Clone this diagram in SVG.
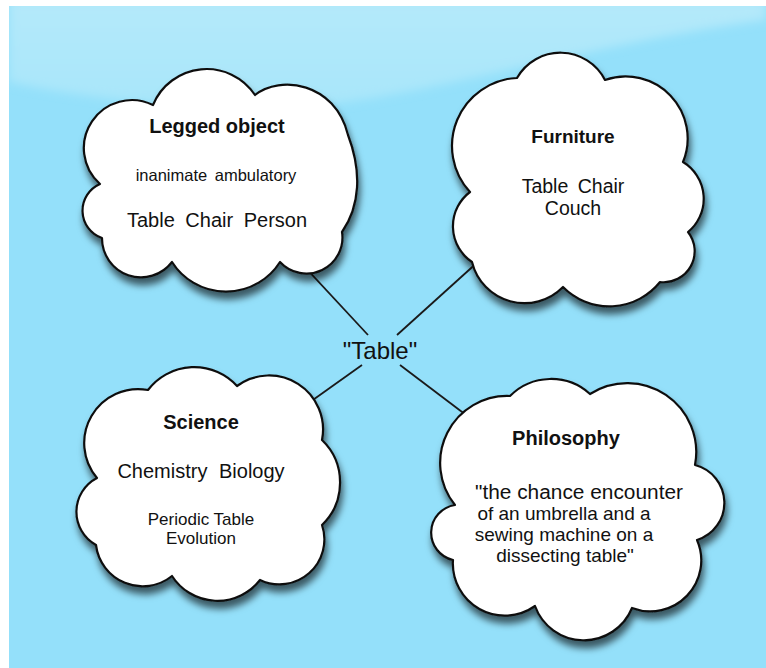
<svg xmlns="http://www.w3.org/2000/svg" width="766" height="668" viewBox="0 0 766 668">
  <defs>
    <linearGradient id="sky" x1="0" y1="0" x2="0" y2="1">
      <stop offset="0" stop-color="#b4e9fa"/>
      <stop offset="1" stop-color="#a8e6fa"/>
    </linearGradient>
    <filter id="soft" x="-10%" y="-30%" width="120%" height="160%">
      <feGaussianBlur stdDeviation="5"/>
    </filter>
    <filter id="shade" x="-20%" y="-20%" width="140%" height="150%">
      <feDropShadow dx="2" dy="7" stdDeviation="3.5" flood-color="#000" flood-opacity="0.6"/>
    </filter>
    <style>
      .cloud { fill: #ffffff; stroke: #111111; stroke-width: 2.2; stroke-linejoin: round; filter: url(#shade); }
      .title { font-family: "Liberation Sans", Arial, sans-serif; font-weight: bold; fill: #111111; text-anchor: middle; }
      .body { font-family: "Liberation Sans", Arial, sans-serif; fill: #111111; text-anchor: middle; }
      .link { stroke: #1a1a1a; stroke-width: 1.8; fill: none; }
    </style>
  </defs>

  <rect width="766" height="668" fill="#ffffff"/>
  <!-- sky backdrop with a soft glossy band along the top -->
  <rect x="9" y="6" width="757" height="662" fill="#94e0fa"/>
  <path d="M9,0 H766 V20 C600,42 440,92 330,104 C220,114 90,100 9,82 Z" fill="url(#sky)" filter="url(#soft)"/>
  <rect x="0" y="0" width="766" height="6" fill="#ffffff"/>
  <rect x="0" y="0" width="9" height="668" fill="#ffffff"/>

  <!-- connectors from the centre word to each cloud -->
  <g id="connectors">
    <line class="link" x1="290" y1="251" x2="368" y2="335"/>
    <line class="link" x1="480" y1="260" x2="397" y2="335"/>
    <line class="link" x1="362" y1="365" x2="296" y2="412"/>
    <line class="link" x1="400" y1="365" x2="470" y2="418"/>
  </g>

  <g id="center">
    <text class="body" x="380" y="359" font-size="24">"Table"</text>
  </g>

  <g id="legged-object">
    <path class="cloud" d="M153,105 A58,58 0 0 1 255,95 C280,75 335,82 348,135 C362,172 360,206 342,232 A36,36 0 0 1 280,262 A64,64 0 0 1 172,262 A39,39 0 0 1 102,238 A29,29 0 0 1 100,184 A48,48 0 0 1 153,105 Z"/>
    <text class="title" x="217" y="133" font-size="20">Legged object</text>
    <text class="body" x="216" y="181" font-size="16.5" word-spacing="3">inanimate ambulatory</text>
    <text class="body" x="217" y="227" font-size="20" word-spacing="5">Table Chair Person</text>
  </g>

  <g id="furniture">
    <path class="cloud" d="M517,78 A50,50 0 0 1 605,80 A62,62 0 0 1 683,162 A43,43 0 0 1 688,232 A31,31 0 0 1 660,282 A65,65 0 0 1 563,287 A54,54 0 0 1 472,262 A43,43 0 0 1 470,192 A68,68 0 0 1 517,78 Z"/>
    <text class="title" x="573" y="143" font-size="19">Furniture</text>
    <text class="body" x="573" y="193" font-size="19.5" word-spacing="4">Table Chair</text>
    <text class="body" x="573" y="215" font-size="19.5">Couch</text>
  </g>

  <g id="science">
    <path class="cloud" d="M148,390 A58,58 0 0 1 237,386 A54,54 0 0 1 322,440 A59,59 0 0 1 322,525 A45,45 0 0 1 260,580 A54,54 0 0 1 172,576 A47,47 0 0 1 96,545 A38,38 0 0 1 97,478 A54,54 0 0 1 148,390 Z"/>
    <text class="title" x="201" y="429" font-size="20">Science</text>
    <text class="body" x="201" y="478" font-size="20" word-spacing="6">Chemistry Biology</text>
    <text class="body" x="201" y="525" font-size="17">Periodic Table</text>
    <text class="body" x="201" y="544" font-size="17">Evolution</text>
  </g>

  <g id="philosophy">
    <path class="cloud" d="M510,396 A58,58 0 0 1 590,394 A69,69 0 0 1 695,465 A39,39 0 0 1 697,540 A51,51 0 0 1 632,608 A52,52 0 0 1 535,606 A52,52 0 0 1 453,560 A28,28 0 0 1 455,505 A67,67 0 0 1 510,396 Z"/>
    <text class="title" x="566" y="445" font-size="20">Philosophy</text>
    <text class="body" x="579" y="499" font-size="19.5" textLength="208" lengthAdjust="spacingAndGlyphs">"the chance encounter</text>
    <text class="body" x="564" y="520" font-size="19">of an umbrella and a</text>
    <text class="body" x="564" y="541" font-size="19">sewing machine on a</text>
    <text class="body" x="565" y="562" font-size="19">dissecting table"</text>
  </g>
</svg>
